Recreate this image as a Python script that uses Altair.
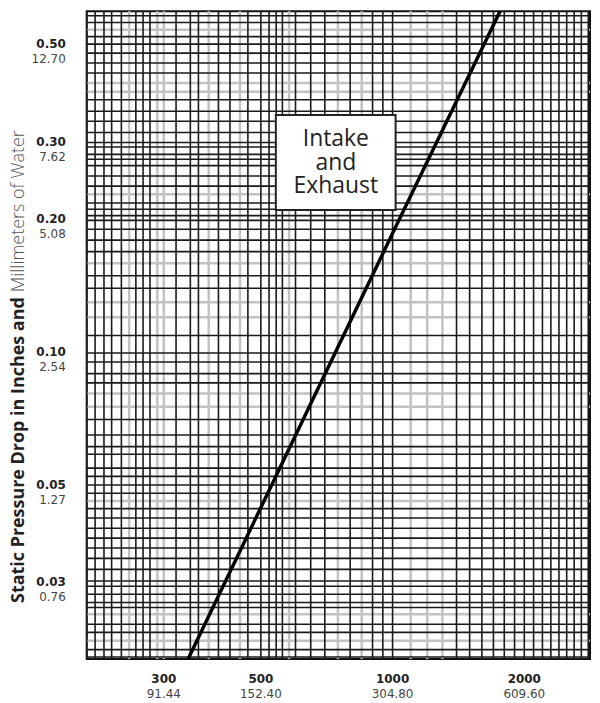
import altair as alt
import pandas as pd

# Curve: intake and exhaust static pressure drop vs air velocity
velocity = [341, 1000, 1765]
pressure = [0.0201, 0.186, 0.597]

# Tick labels (ft/min with m/min beneath; inches of water with mm beneath)
x_tick_vals = [300, 500, 1000, 2000]
x_tick_main = ["300", "500", "1000", "2000"]
x_tick_metric = ["91.44", "152.40", "304.80", "609.60"]

y_tick_vals = [0.5, 0.3, 0.2, 0.1, 0.05, 0.03]
y_tick_main = ["0.50", "0.30", "0.20", "0.10", "0.05", "0.03"]
y_tick_metric = ["12.70", "7.62", "5.08", "2.54", "1.27", "0.76"]

# Log-paper grid lines (read from the printed sheet)
grid_x_dark = [200, 209, 219, 228, 240, 259, 269, 279, 320, 345, 360, 400, 425,
               467, 500, 522, 542, 560, 600, 650, 700, 800, 900, 950, 1000,
               1400, 1500, 1600, 1700, 1800, 1900, 2000, 2100, 2200, 2300,
               2400, 2500, 2600, 2700, 2800]
grid_x_light = [250, 290, 300, 380, 448, 580, 750, 850, 1100, 1200, 1300]

grid_y_dark = [0.58, 0.56, 0.52, 0.50, 0.477, 0.453, 0.43, 0.374, 0.352, 0.334,
               0.315, 0.299, 0.292, 0.281, 0.274, 0.265, 0.251, 0.238, 0.218,
               0.211, 0.204, 0.199, 0.19, 0.1795, 0.169, 0.149, 0.1396, 0.109,
               0.0995, 0.0949, 0.0893, 0.0851, 0.0703, 0.0648, 0.061, 0.0586,
               0.0545, 0.0522, 0.0499, 0.0478, 0.0441, 0.042, 0.0398, 0.0378,
               0.0359, 0.034, 0.0321, 0.0302, 0.0294, 0.0282, 0.027, 0.0263,
               0.0241, 0.0231, 0.0211, 0.0203]
grid_y_light = [0.539, 0.408, 0.39, 0.228, 0.159, 0.1297, 0.12, 0.0805, 0.0751,
                0.0459, 0.0254, 0.0221]

# Annotation box
box_x = [541, 1016]
box_y = [0.21, 0.345]
box_label_pos = [742, 0.305]
box_label = "Intake\nand\nExhaust"

title_bold = "Static Pressure Drop in Inches and"
title_light = "Millimeters of Water"

X_DOMAIN = [200, 2826]
Y_DOMAIN = [0.0201, 0.594]

xs = alt.Scale(type="log", domain=X_DOMAIN, nice=False)
ys = alt.Scale(type="log", domain=Y_DOMAIN, nice=False)

FONT = "DejaVu Sans"
LIGHT = "#c2c2c2"
DARK = "#1a1a1a"

vx_light = alt.Chart(pd.DataFrame({"v": grid_x_light})).mark_rule(
    color=LIGHT, strokeWidth=2.5
).encode(x=alt.X("v:Q", scale=xs, axis=None))
hy_light = alt.Chart(pd.DataFrame({"v": grid_y_light})).mark_rule(
    color=LIGHT, strokeWidth=2.5
).encode(y=alt.Y("v:Q", scale=ys, axis=None))
vx_dark = alt.Chart(pd.DataFrame({"v": grid_x_dark})).mark_rule(
    color=DARK, strokeWidth=1.6
).encode(x=alt.X("v:Q", scale=xs, axis=None))
hy_dark = alt.Chart(pd.DataFrame({"v": grid_y_dark})).mark_rule(
    color=DARK, strokeWidth=1.6
).encode(y=alt.Y("v:Q", scale=ys, axis=None))

curve = alt.Chart(pd.DataFrame({"vel": velocity, "p": pressure})).mark_line(
    color="#000", strokeWidth=3.5, clip=True
).encode(
    x=alt.X("vel:Q", scale=xs, axis=None),
    y=alt.Y("p:Q", scale=ys, axis=None),
)

box = alt.Chart(pd.DataFrame({"x1": [box_x[0]], "x2": [box_x[1]],
                              "y1": [box_y[0]], "y2": [box_y[1]]})).mark_rect(
    fill="white", stroke="#222", strokeWidth=2
).encode(
    x=alt.X("x1:Q", scale=xs, axis=None), x2="x2:Q",
    y=alt.Y("y1:Q", scale=ys, axis=None), y2="y2:Q",
)

box_text = alt.Chart(pd.DataFrame({"bx": [box_label_pos[0]], "by": [box_label_pos[1]],
                                   "t": [box_label]})).mark_text(
    font="Open Sans", fontSize=23, lineHeight=24, lineBreak="\n",
    align="center", baseline="middle", color="#222"
).encode(
    x=alt.X("bx:Q", scale=xs, axis=None),
    y=alt.Y("by:Q", scale=ys, axis=None),
    text="t:N",
)

ydf = pd.DataFrame({"yv": y_tick_vals, "main": y_tick_main, "metric": y_tick_metric})
y_main = alt.Chart(ydf).mark_text(
    font=FONT, fontSize=12, fontWeight="bold", align="right", baseline="middle", color="#222"
).encode(x=alt.value(-21), y=alt.Y("yv:Q", scale=ys, axis=None), text="main:N")
y_metric = alt.Chart(ydf).mark_text(
    font=FONT, fontSize=12, align="right", baseline="middle", dy=15, color="#444"
).encode(x=alt.value(-21), y=alt.Y("yv:Q", scale=ys, axis=None), text="metric:N")

xdf = pd.DataFrame({"xv": x_tick_vals, "main": x_tick_main, "metric": x_tick_metric})
x_main = alt.Chart(xdf).mark_text(
    font=FONT, fontSize=12, fontWeight="bold", align="center", baseline="middle", color="#222"
).encode(x=alt.X("xv:Q", scale=xs, axis=None), y=alt.value(670), text="main:N")
x_metric = alt.Chart(xdf).mark_text(
    font=FONT, fontSize=12, align="center", baseline="middle", color="#444"
).encode(x=alt.X("xv:Q", scale=xs, axis=None), y=alt.value(685), text="metric:N")

t1 = alt.Chart(pd.DataFrame({"t": [title_bold]})).mark_text(
    font="Open Sans", fontSize=18, fontWeight="bold", angle=270,
    align="right", baseline="middle", color="#222"
).encode(x=alt.value(-68), y=alt.value(287), text="t:N")
t2 = alt.Chart(pd.DataFrame({"t": [title_light]})).mark_text(
    font="Open Sans", fontSize=18, fontWeight=300, angle=270,
    align="left", baseline="middle", color="#555"
).encode(x=alt.value(-68), y=alt.value(282), text="t:N")

chart = alt.layer(
    vx_light, hy_light, vx_dark, hy_dark, curve, box, box_text,
    y_main, y_metric, x_main, x_metric, t1, t2
).properties(
    width=505, height=650,
    padding={"left": 2, "top": 0, "right": 0, "bottom": 0},
    background="white"
).configure_view(stroke="#111", strokeWidth=2)

chart.save("out.html", embed_options={"renderer": "svg", "actions": False})
